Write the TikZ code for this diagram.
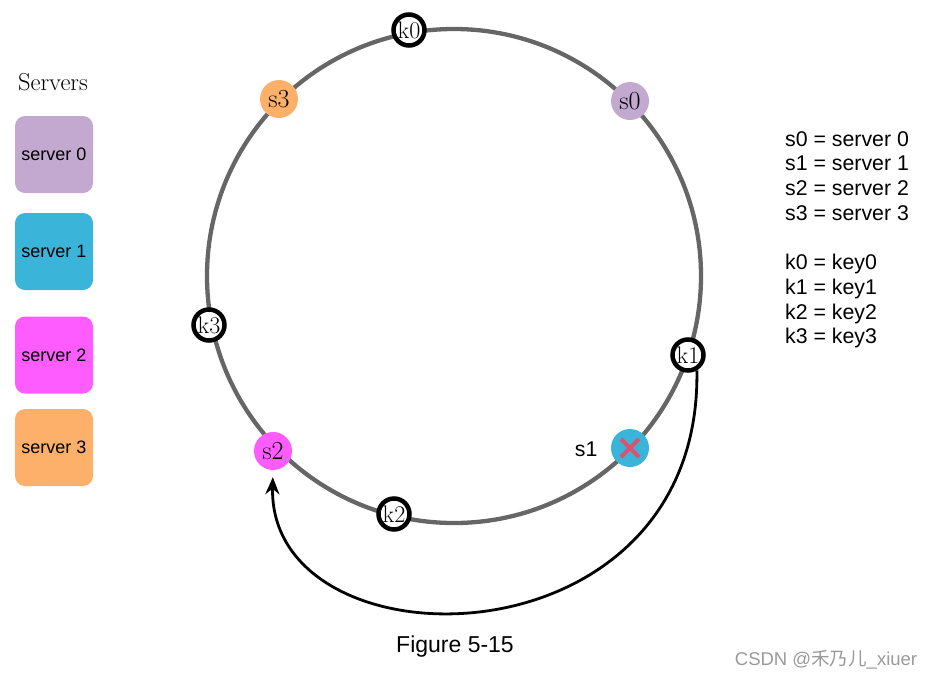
\documentclass[tikz,border=0pt]{standalone}
\usepackage{fontspec}
\setsansfont{Liberation Sans}
\newfontfamily\cjkfont{Noto Sans CJK SC}
\usetikzlibrary{arrows.meta,calc}
\definecolor{ringgray}{HTML}{666666}
\definecolor{cpurple}{HTML}{C3A9CF}
\definecolor{cblue}{HTML}{3BB4DA}
\definecolor{cmagenta}{HTML}{FF5CFF}
\definecolor{corange}{HTML}{FDB06A}
\definecolor{xred}{HTML}{D9536E}
\definecolor{wmgray}{HTML}{9A9A9A}
\begin{document}
\begin{tikzpicture}[x=1pt,y=-1pt,
  server/.style={circle,minimum size=38pt,inner sep=0pt,font=\fontsize{26}{26}\selectfont},
  keynode/.style={circle,draw=black,line width=4.5pt,fill=white,minimum size=31pt,inner sep=0pt,font=\fontsize{24}{24}\selectfont},
  legendbox/.style={rounded corners=10pt,minimum width=78pt,minimum height=77pt,inner sep=0pt,font=\sffamily\fontsize{18}{18}\selectfont},
  sans21/.style={font=\sffamily\fontsize{21.3}{24.7}\selectfont}]
\useasboundingbox (0,0) rectangle (934,678);
% ring
\draw[ringgray,line width=4.3pt] (454,276) circle[radius=247];
% servers on the ring
\node[server,fill=corange] (s3) at (279,99) {s\oldstylenums{3}};
\node[server,fill=cpurple] (s0) at (630,101) {s\oldstylenums{0}};
\node[server,fill=cmagenta] (s2) at (273,451) {s\oldstylenums{2}};
\node[server,fill=cblue] (s1) at (630,448) {};
\draw[xred,line width=4pt] ($(s1)+(-9,-9)$) -- ($(s1)+(9,9)$);
\draw[xred,line width=4pt] ($(s1)+(-9,9)$) -- ($(s1)+(9,-9)$);
\node[sans21,anchor=east] (s1lab) at (601,449) {s1};
% keys on the ring
\node[keynode] (k0) at (409,30) {k\oldstylenums{0}};
\node[keynode] (k3) at (209,325) {k\oldstylenums{3}};
\node[keynode] (k1) at (688,355) {k\oldstylenums{1}};
\node[keynode] (k2) at (394,514) {k\oldstylenums{2}};
% arrow k1 -> s2
\draw[line width=2.8pt,-{Stealth[length=17pt,width=14pt]},shorten >=7pt]
  (k1.300) .. controls (702,672) and (268,672) .. (s2.south);
% legend
\node[font=\fontsize{24.5}{24.5}\selectfont] (title) at (53,82) {Servers};
\node[legendbox,fill=cpurple] (b0) at (54,154.5) {server 0};
\node[legendbox,fill=cblue] (b1) at (54,251.5) {server 1};
\node[legendbox,fill=cmagenta] (b2) at (54,355) {server 2};
\node[legendbox,fill=corange] (b3) at (54,447.5) {server 3};
% key text
\node[sans21,anchor=north west,align=left,inner sep=0pt] (defs) at (785,131) {s0 = server 0\\s1 = server 1\\s2 = server 2\\s3 = server 3\\[25pt]k0 = key0\\k1 = key1\\k2 = key2\\k3 = key3};
\node[font=\sffamily\fontsize{23}{23}\selectfont] (cap) at (455,647) {Figure 5-15};
\node[font=\sffamily\fontsize{18.5}{18.5}\selectfont,text=wmgray] (wm) at (826,660) {CSDN @{\cjkfont 禾乃儿}\_xiuer};
\end{tikzpicture}
\end{document}
